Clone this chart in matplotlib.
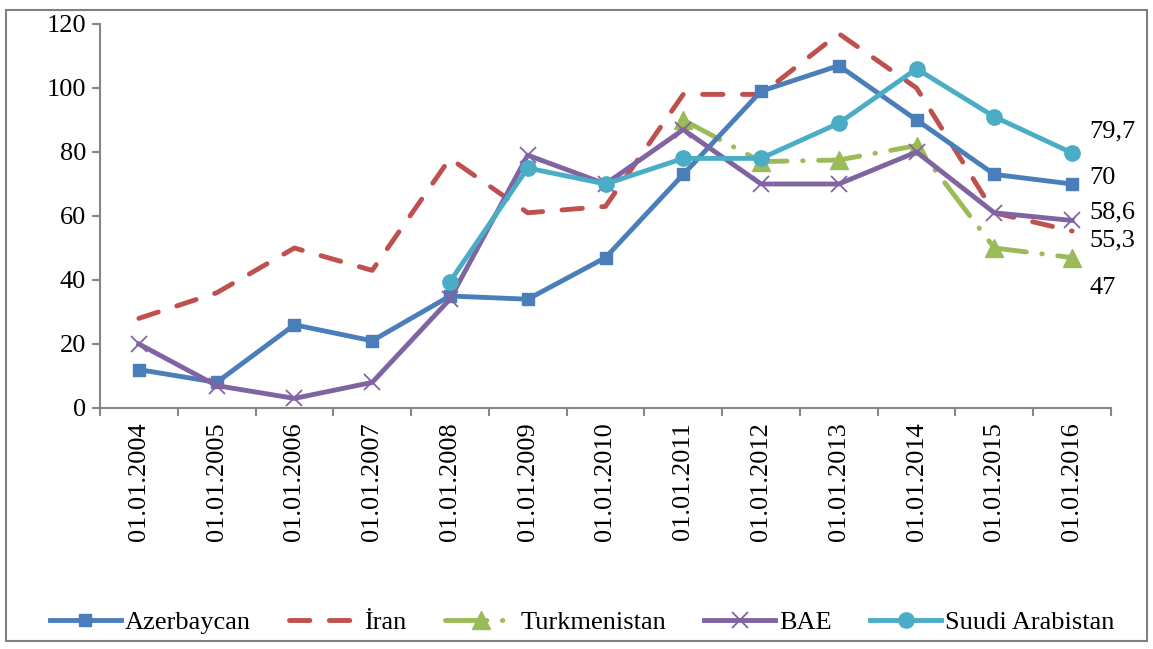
import matplotlib
matplotlib.use("Agg")
import matplotlib.pyplot as plt
from matplotlib.patches import Rectangle
import numpy as np

plt.rcParams['font.family'] = ['Liberation Serif', 'DejaVu Serif']

years = ["01.01.2004", "01.01.2005", "01.01.2006", "01.01.2007", "01.01.2008",
         "01.01.2009", "01.01.2010", "01.01.2011", "01.01.2012", "01.01.2013",
         "01.01.2014", "01.01.2015", "01.01.2016"]
azerbaycan = [12, 8, 26, 21, 35, 34, 47, 73, 99, 107, 90, 73, 70]
iran = [28, 36, 50, 43, 78, 61, 63, 98, 98, 117, 100, 61, 55.3]
turkmenistan = [None, None, None, None, None, None, None, 90, 77, 77.5, 82, 50, 47]
bae = [20, 7, 3, 8, 34, 79, 70, 87, 70, 70, 80, 61, 58.6]
suudi = [None, None, None, None, 39.5, 75, 70, 78, 78, 89, 106, 91, 79.7]
end_labels = ["79,7", "70", "58,6", "55,3", "47"]
end_label_y = [86.5, 72, 61, 52.5, 37.5]

def arr(v):
    return np.array([np.nan if x is None else x for x in v], dtype=float)

fig = plt.figure(figsize=(11.53, 6.49), dpi=100)
ax = fig.add_axes([100/1153, 1 - 408/649, (1111-100)/1153, (408-24)/649])

x = np.arange(len(years))
lw = 3.5
ax.plot(x, arr(azerbaycan), color='#4A7EBB', lw=lw, marker='s', ms=8.5, label='Azerbaycan', zorder=3)
ax.plot(x, arr(iran), color='#C0504D', lw=lw, linestyle=(0, (4.2, 4)), dash_capstyle='round', label='İran', zorder=2)
ax.plot(x, arr(turkmenistan), color='#9BBB59', lw=lw, linestyle=(0, (8.5, 3.2, 0.1, 3.2)), dash_capstyle='round',
        marker='^', ms=13, label='Turkmenistan', zorder=2.5)
ax.plot(x, arr(bae), color='#8064A2', lw=lw, marker='x', ms=12, mew=1.3, label='BAE', zorder=3.5)
ax.plot(x, arr(suudi), color='#4BACC6', lw=lw, marker='o', ms=11, label='Suudi Arabistan', zorder=4)

for t, yv in zip(end_labels, end_label_y):
    ax.text(12.22, yv, t, fontsize=19, va='center', ha='left', clip_on=False)

ax.set_xlim(-0.5, 12.5)
ax.set_ylim(0, 120)
ax.set_yticks(range(0, 121, 20))
ax.set_xticks(x)
ax.set_xticklabels(years, rotation=90, fontsize=19)
ax.tick_params(axis='x', which='major', length=0, pad=10)
ax.set_xticks(np.arange(-0.5, 12.6, 1), minor=True)
ax.tick_params(axis='x', which='minor', length=6, color='#868686', width=1.5, direction='out')
ax.tick_params(axis='y', length=6, color='#868686', width=1.5, labelsize=19, pad=4)
for s in ['top', 'right']:
    ax.spines[s].set_visible(False)
for s in ['left', 'bottom']:
    ax.spines[s].set_color('#868686')
    ax.spines[s].set_linewidth(1.5)

leg = fig.legend(loc='center', bbox_to_anchor=(0.505, 1 - 622/649), ncol=5, frameon=False,
                 fontsize=19, handlelength=2.7, columnspacing=1.45, handletextpad=0.15)

fig.patches.append(Rectangle((6/1153, 1 - 641/649), 1141/1153, 631/649, transform=fig.transFigure,
                             fill=False, edgecolor='#808080', lw=1.5))

fig.savefig('out.png', dpi=100)
